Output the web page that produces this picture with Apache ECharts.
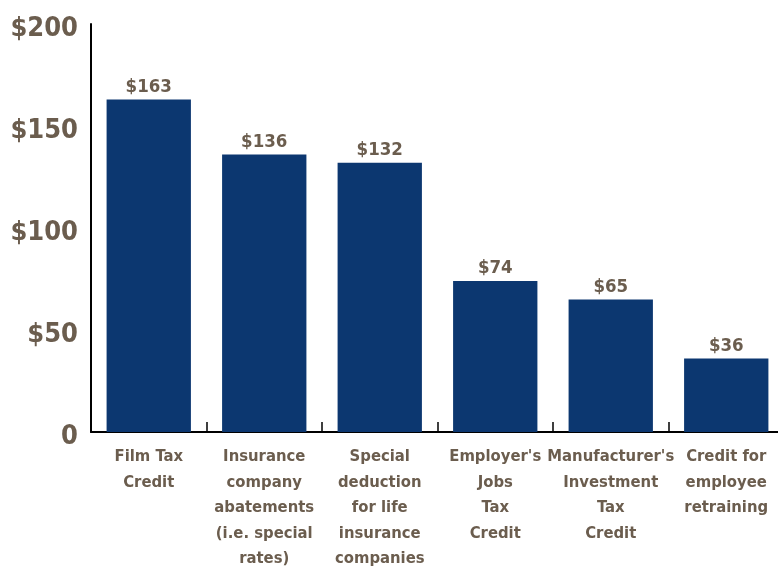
<!DOCTYPE html>
<html>
<head>
<meta charset="utf-8">
<script src="https://cdn.jsdelivr.net/npm/echarts@6/dist/echarts.min.js"></script>
<style>html,body{margin:0;padding:0;background:#fff;}#c{width:778px;height:568px;}</style>
</head>
<body>
<div id="c"></div>
<script>
const categories = ["Film Tax\nCredit", "Insurance\ncompany\nabatements\n(i.e. special\nrates)", "Special\ndeduction\nfor life\ninsurance\ncompanies", "Employer's\nJobs\nTax\nCredit", "Manufacturer's\nInvestment\nTax\nCredit", "Credit for\nemployee\nretraining"];
const values = [163, 136, 132, 74, 65, 36];
const yTicks = [0, 50, 100, 150, 200];

const FONT = '"DejaVu Sans Condensed", "Liberation Sans Narrow", sans-serif';
const TXT = '#6b5d4e';
const chart = echarts.init(document.getElementById('c'));
chart.setOption({
  animation: false,
  grid: {left: 91, top: 24, width: 693, height: 408, containLabel: false, outerBoundsMode: 'none'},
  xAxis: {
    type: 'category', data: categories,
    axisLine: {lineStyle: {color: '#000', width: 2}},
    axisTick: {show: true, inside: true, length: 10, lineStyle: {color: '#000', width: 1.5}},
    axisLabel: {color: TXT, fontFamily: FONT, fontWeight: 'bold', fontSize: 16.5, lineHeight: 25.5, margin: 12, interval: 0}
  },
  yAxis: {
    type: 'value', min: 0, max: 200, interval: 50,
    splitLine: {show: false},
    axisLine: {show: true, lineStyle: {color: '#000', width: 2}},
    axisTick: {show: false},
    axisLabel: {color: TXT, fontFamily: FONT, fontWeight: 'bold', fontSize: 27, margin: 13,
      verticalAlign: 'top', lineHeight: 9,
      formatter: v => yTicks.indexOf(v) >= 0 ? (v === 0 ? '0' : '$' + v) : ''}
  },
  series: [{
    type: 'bar', data: values, barWidth: '73%',
    itemStyle: {color: '#0c3770'},
    label: {show: true, position: 'top', distance: 3, color: TXT, fontFamily: FONT, fontWeight: 'bold', fontSize: 18.5,
      formatter: p => '$' + p.value}
  }]
});
</script>
</body>
</html>
